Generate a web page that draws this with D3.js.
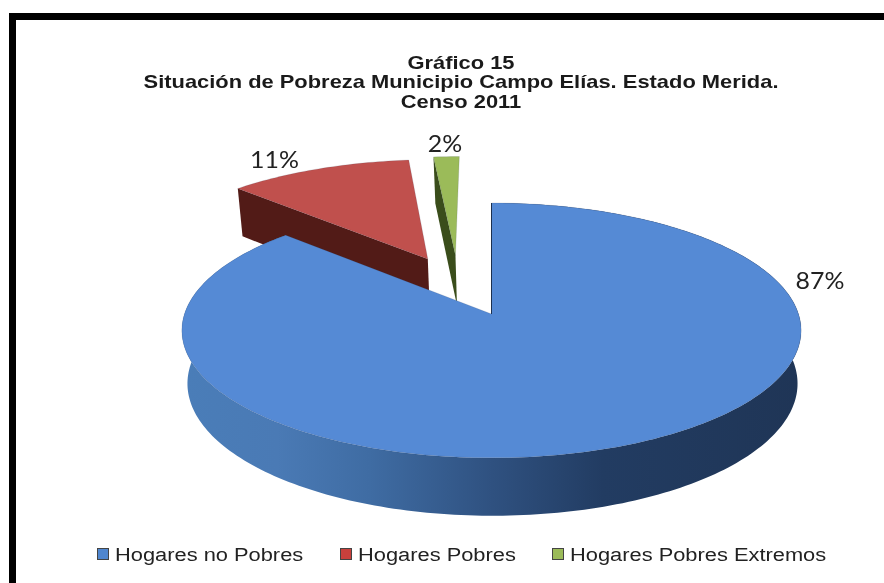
<!DOCTYPE html>
<html><head><meta charset="utf-8">
<script src="https://cdn.jsdelivr.net/npm/d3@7/dist/d3.min.js"></script>
<style>html,body{margin:0;padding:0;background:#fff}svg{display:block;filter:blur(.4px)}</style>
</head><body>
<script>
const titleLines = ["Gráfico 15","Situación de Pobreza Municipio Campo Elías. Estado Merida.","Censo 2011"];
const categories = ["Hogares no Pobres","Hogares Pobres","Hogares Pobres Extremos"];
const values = [87.0,11.4,1.6];
const topColors = ["#558ad5","#c0504d","#9bbb59"];
const wallColors = ["#24426e","#521b17","#3a4d1b"];
const legendColors = ["#4f86cf","#c8403c","#9bbb59"];
const W=884,H=583;
const svg=d3.select("body").append("svg").attr("width",W).attr("height",H);
const defs=svg.append("defs");
const grad=defs.append("linearGradient").attr("id","wall").attr("gradientUnits","userSpaceOnUse")
  .attr("x1",185).attr("x2",800).attr("y1",0).attr("y2",0);
[[0,"#4a7db8"],[.15,"#4a7ab5"],[.3,"#3f6ca3"],[.5,"#2f5180"],[.68,"#223c62"],[1,"#1f3556"]].forEach(s=>grad.append("stop").attr("offset",s[0]).attr("stop-color",s[1]));

// frame
svg.append("rect").attr("x",12.5).attr("y",16.5).attr("width",W+20).attr("height",H+20)
  .attr("fill","none").attr("stroke","#000").attr("stroke-width",7);

// title
svg.append("g").selectAll("text").data(titleLines).join("text")
  .attr("transform",(d,i)=>`translate(461,${[69,92,113][i]-[0,4,5][i]}) scale(1.19,1)`).attr("text-anchor","middle")
  .attr("font-family","Liberation Sans").attr("font-weight","bold").attr("font-size",18.4)
  .attr("fill","#1a1a1a").text(d=>d);

// perspective projection of the pie plane
const k=.129;
const xTop=d3.scaleLinear().domain([-1,1]).range([491.5-307,491.5+307]);
const yTop=d3.scaleLinear().domain([-1,1]).range([314-125.3,314+125.3]);
const xBot=d3.scaleLinear().domain([-1,1]).range([492.5-302.5,492.5+302.5]);
const yBot=d3.scaleLinear().domain([-1,1]).range([366.5-130,366.5+130]);
const proj=(u,v,bottom)=>{const w=1-k*v;return bottom?[xBot(u/w),yBot(v/w)]:[xTop(u/w),yTop(v/w)];};
const offsets=[[0,0],[-.22,-.465],[-.125,-.5]];
const pie=d3.pie().sort(null)(values);
const line=d3.line();
const arcPts=(a0,a1,off,bottom)=>{
  const n=Math.max(2,Math.ceil((a1-a0)/.02)),o=[];
  for(let i=0;i<=n;i++){const a=a0+(a1-a0)*i/n;o.push(proj(Math.sin(a)+off[0],-Math.cos(a)+off[1],bottom));}
  return o;};
const order=[2,1,0];
const g=svg.append("g");
order.forEach(i=>{
  const s=pie[i],off=offsets[i],apT=proj(off[0],off[1],false),apB=proj(off[0],off[1],true);
  if(i===0){
    g.append("path").attr("d",line(arcPts(s.startAngle,s.endAngle,off,false).concat(arcPts(s.startAngle,s.endAngle,off,true).reverse()))+"Z")
     .attr("fill","url(#wall)");
  } else {
    const a=s.startAngle;
    const e=[Math.sin(a)+off[0],-Math.cos(a)+off[1]];
    g.append("path").attr("d",line([proj(e[0],e[1],false),apT,apB,proj(e[0],e[1],true)])+"Z").attr("fill",wallColors[i]);
  }
  g.append("path").attr("d",line([apT].concat(arcPts(s.startAngle,s.endAngle,off,false)))+"Z")
   .attr("fill",topColors[i]).attr("stroke","#2c3e55").attr("stroke-opacity",.25).attr("stroke-width",.6);
  if(i===0){
    g.append("path").attr("d",line([apT,proj(Math.sin(s.startAngle),-Math.cos(s.startAngle),false)]))
     .attr("stroke","#1c3050").attr("stroke-width",1).attr("fill","none");
  }
});

// data labels
const labelPos=[[820,281],[274.5,160],[445,144]];
svg.append("g").selectAll("text").data(values).join("text")
  .attr("transform",(d,i)=>`translate(${labelPos[i][0]},${labelPos[i][1]+8}) scale(1.06,1)`).attr("text-anchor","middle")
  .attr("font-family","Lato").attr("font-size",23.5).attr("fill","#222").text(d=>d3.format(".0f")(d)+"%");

// legend
const legX=[97,340,552];
const leg=svg.append("g").selectAll("g").data(categories).join("g").attr("transform",(d,i)=>`translate(${legX[i]},548)`);
leg.append("rect").attr("x",.5).attr("y",.5).attr("width",11).attr("height",11)
  .attr("fill",(d,i)=>legendColors[i]).attr("stroke","#444").attr("stroke-width",1);
leg.append("text").attr("transform","translate(18,12.5) scale(1.15,1)").attr("font-family","Liberation Sans").attr("font-size",19)
  .attr("fill","#222").text(d=>d);
</script>
</body></html>
